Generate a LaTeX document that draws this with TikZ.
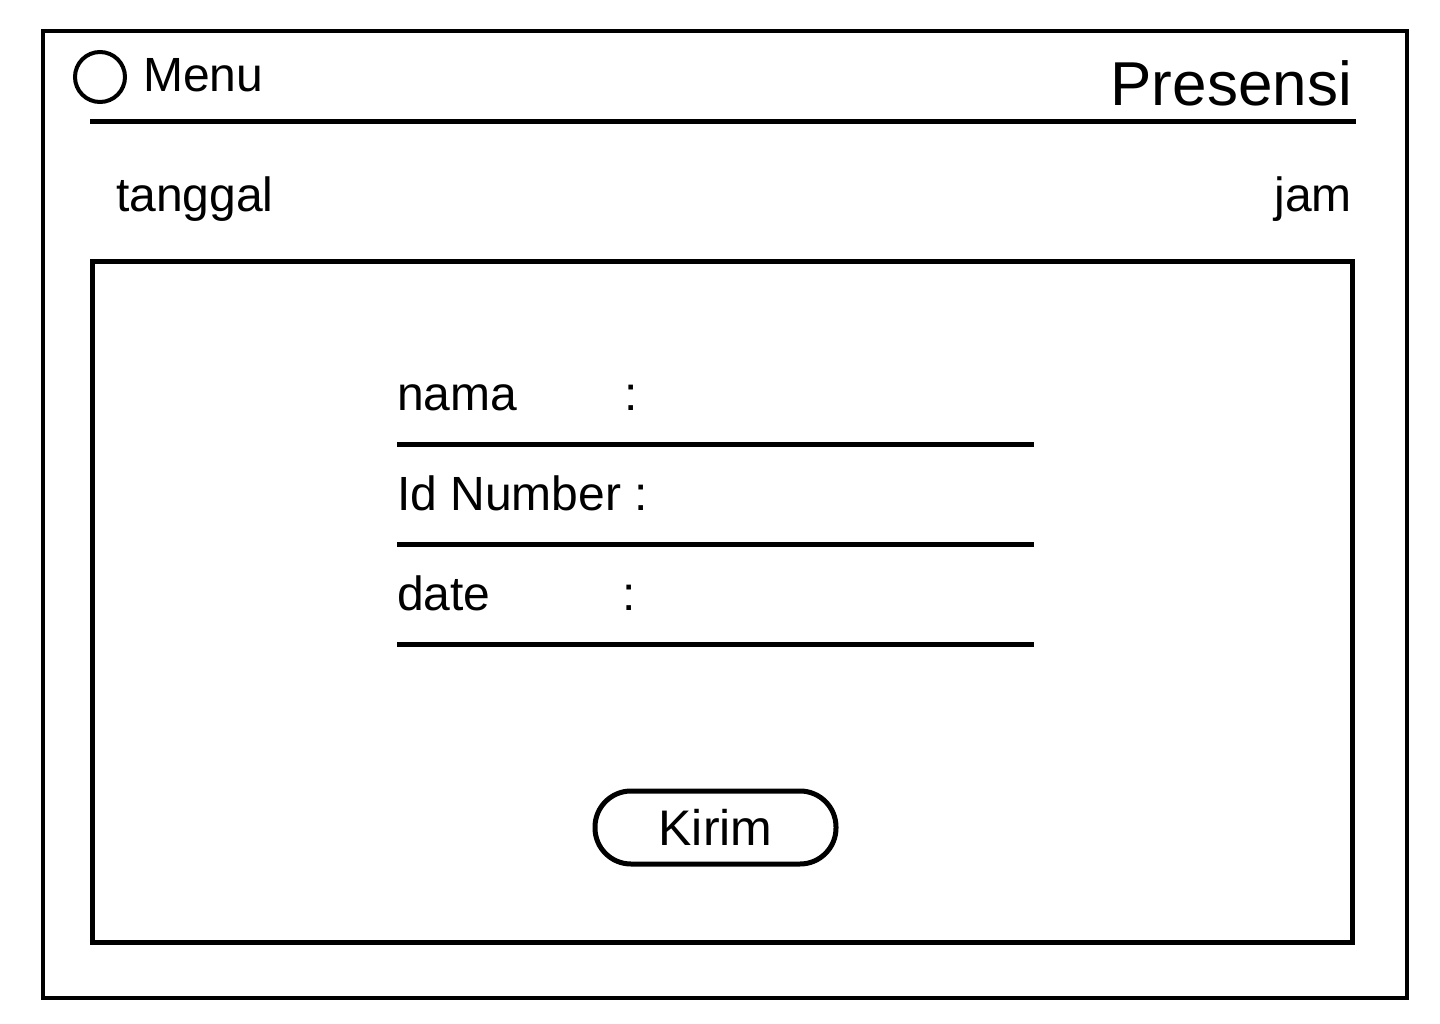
\documentclass[tikz,border=0pt]{standalone}
\usepackage{fontspec}
\setmainfont{Liberation Sans}
\begin{document}
\begin{tikzpicture}[x=1pt, y=-1pt,
    label/.style={inner sep=0pt, font=\fontsize{48}{54}\selectfont},
    bar/.style={line width=5pt}]
    \useasboundingbox (0,0) rectangle (1440,1024);
    % Frames
    \draw[line width=4pt] (43,31) rectangle (1407,998);
    \draw[line width=5pt] (92,262) rectangle (1352,942);

    % Header
    \node[circle, draw, line width=4pt, minimum size=50pt, inner sep=0pt] (menuicon) at (100,77) {};
    \node[label, anchor=base west] (menu) at (143,92) {Menu};
    \node[label, anchor=base east, font=\fontsize{62}{70}\selectfont] (title) at (1352,106) {Presensi};
    \coordinate (hl) at (90,122);
    \coordinate (hr) at (1356,122);
    \draw[bar] (hl) -- (hr);

    \node[label, anchor=base west] (tanggal) at (116,212) {tanggal};
    \node[label, anchor=base east] (jam) at (1352,212) {jam};

    % Form
    \node[label, anchor=base west] (nama) at (397,410) {nama};
    \node[label, anchor=base west] (namacol) at (624,410) {:};
    \node[label, anchor=base west] (idnum) at (397,510) {Id Number :};
    \node[label, anchor=base west] (date) at (397,610) {date};
    \node[label, anchor=base west] (datecol) at (622,610) {:};

    \coordinate (l1a) at (397,444);
    \coordinate (l1b) at (1034,444);
    \coordinate (l2a) at (397,544);
    \coordinate (l2b) at (1034,544);
    \coordinate (l3a) at (397,644);
    \coordinate (l3b) at (1034,644);
    \draw[bar] (l1a) -- (l1b);
    \draw[bar] (l2a) -- (l2b);
    \draw[bar] (l3a) -- (l3b);

    % Button
    \node[draw, line width=5pt, rounded corners=36pt, minimum width=241pt, minimum height=73pt,
        font=\fontsize{50}{56}\selectfont] (kirim) at (715.5,827.5) {Kirim};
\end{tikzpicture}
\end{document}
